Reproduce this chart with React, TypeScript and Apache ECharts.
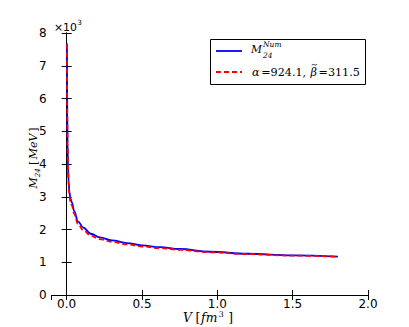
import React, { useEffect, useRef } from "react";
import * as echarts from "echarts";

const volumes = [0.002, 0.004, 0.006, 0.009, 0.013, 0.018, 0.025, 0.035, 0.05, 0.075, 0.11, 0.16, 0.22, 0.3, 0.4, 0.5, 0.62, 0.75, 0.95, 1.2, 1.5, 1.8];
const numericMass = [7680, 5600, 4650, 3900, 3450, 3150, 2950, 2820, 2560, 2250, 2060, 1870, 1760, 1670, 1585, 1515, 1460, 1405, 1320, 1260, 1210, 1170];
const fitMass = [7650, 5500, 4550, 3800, 3350, 3050, 2850, 2720, 2470, 2170, 1980, 1810, 1705, 1625, 1545, 1480, 1430, 1380, 1305, 1248, 1202, 1167];
const yTicks = [0, 1, 2, 3, 4, 5, 6, 7, 8];
const xTickLabels = ["0.0", "0.5", "1.0", "1.5", "2.0"];

const serif = "DejaVu Serif";
const sans = "DejaVu Sans";

type Part = { t: string; s: number; it?: boolean; dy?: number; fam?: string; gap?: number };

let ctx: CanvasRenderingContext2D | null = null;
function measure(p: Part, scale: number) {
  if (!ctx) ctx = document.createElement("canvas").getContext("2d");
  const fam = p.fam || serif;
  ctx!.font = `${p.it ? "italic " : ""}${p.s * scale}px "${fam}"`;
  return ctx!.measureText(p.t).width;
}

// lay out runs of text left to right, scaled so that the total width equals target
function runs(x0: number, y: number, parts: Part[], target: number) {
  let w = 0;
  parts.forEach((p) => (w += measure(p, 1) + (p.gap || 0)));
  const scale = target / w;
  let x = x0;
  const out: any[] = [];
  parts.forEach((p) => {
    x += (p.gap || 0) * scale;
    const fs = p.s * scale;
    out.push({
      type: "text", x, y: y + (p.dy || 0),
      style: {
        text: p.t, fontFamily: p.fam || serif, fontStyle: p.it ? "italic" : "normal",
        fontSize: fs, lineHeight: fs, fill: "#000", textVerticalAlign: "middle",
      },
    });
    x += measure(p, scale);
  });
  return out;
}

export default function App() {
  const ref = useRef<HTMLDivElement>(null);
  useEffect(() => {
    if (!ref.current) return;
    const chart = echarts.init(ref.current, null, { renderer: "svg" });
    const blue = volumes.map((v, i) => [v, numericMass[i]]);
    const red = volumes.map((v, i) => [v, fitMass[i]]);
    const axisLine = { show: true, lineStyle: { color: "#000", width: 1 } };
    const tick = { show: true, inside: true, length: 5, lineStyle: { color: "#000", width: 1 } };

    const yLabel = runs(-30.5, 0, [
      { t: "M", s: 14, it: true },
      { t: "24", s: 9, it: true, dy: 4 },
      { t: "[", s: 14, gap: 4 },
      { t: "MeV", s: 14, it: true, gap: 2 },
      { t: "]", s: 14, gap: 2 },
    ], 61);
    const xLabel = runs(183, 318, [
      { t: "V", s: 14, it: true },
      { t: "[", s: 14, gap: 4 },
      { t: "fm", s: 14, it: true, gap: 1 },
      { t: "3", s: 9, dy: -3.5, gap: 1.5 },
      { t: "]", s: 14, gap: 5 },
    ], 50);
    const mult = runs(54, 27, [
      { t: "×10", s: 12, fam: sans },
      { t: "3", s: 8, fam: sans, dy: -5, gap: 0.5 },
    ], 28);
    const leg1 = runs(251, 49.5, [{ t: "M", s: 13, it: true }], 11);
    const leg2 = runs(252, 72.5, [
      { t: "α", s: 13, it: true },
      { t: "=924.1,", s: 13, gap: 2 },
      { t: "β", s: 13, it: true, gap: 5 },
      { t: "=311.5", s: 13, gap: 2 },
    ], 108);
    const bx = leg2[2].x + 1.5;

    chart.setOption({
      animation: false,
      backgroundColor: "#fff",
      grid: { left: 51.6, right: 41, top: 33, bottom: 32, containLabel: false, show: false },
      xAxis: [
        {
          type: "value", min: -0.1, max: 2.0, position: "bottom",
          axisLine, axisTick: tick, splitLine: { show: false },
          axisLabel: {
            show: true, showMinLabel: false, showMaxLabel: true, margin: 4,
            fontFamily: sans, fontSize: 12, lineHeight: 10, color: "#000",
            formatter: (v: number) => {
              const s = v.toFixed(1);
              return xTickLabels.includes(s) ? s : "";
            },
          },
        },
        {
          type: "value", min: -0.1, max: 2.0, position: "top",
          axisLine, axisTick: tick, splitLine: { show: false }, axisLabel: { show: false },
        },
      ],
      yAxis: [
        {
          type: "value", min: 0, max: 8000, interval: 1000, position: "left",
          axisLine, axisTick: tick, splitLine: { show: false },
          axisLabel: {
            margin: 5, fontFamily: sans, fontSize: 12, color: "#000",
            formatter: (v: number) => {
              const k = Math.round(v / 1000);
              return yTicks.includes(k) ? String(k) : "";
            },
          },
        },
        {
          type: "value", min: 0, max: 8000, interval: 1000, position: "right",
          axisLine, axisTick: tick, splitLine: { show: false }, axisLabel: { show: false },
        },
      ],
      series: [
        {
          name: "M24Num", type: "line", data: blue, xAxisIndex: 0, yAxisIndex: 0,
          showSymbol: false, symbol: "none", smooth: 0.4, smoothMonotone: "x",
          lineStyle: { color: "#0000ff", width: 1.8 }, z: 2,
        },
        {
          name: "fit", type: "line", data: red, xAxisIndex: 0, yAxisIndex: 0,
          showSymbol: false, symbol: "none", smooth: 0.4, smoothMonotone: "x",
          lineStyle: { color: "#ff0000", width: 1.8, type: [5, 3] }, z: 3,
        },
      ],
      graphic: [
        ...mult,
        { type: "group", x: 33, y: 158, rotation: Math.PI / 2, children: yLabel },
        ...xLabel,
        {
          type: "group", z: 100,
          children: [
            { type: "rect", shape: { x: 210.5, y: 39.5, width: 155, height: 45 }, style: { fill: "#fff", stroke: "#000", lineWidth: 1 } },
            { type: "line", shape: { x1: 216, y1: 51, x2: 242, y2: 51 }, style: { stroke: "#0000ff", lineWidth: 1.8 } },
            { type: "line", shape: { x1: 216, y1: 72, x2: 242, y2: 72 }, style: { stroke: "#ff0000", lineWidth: 1.8, lineDash: [5, 3] } },
            ...leg1,
            { type: "text", x: 263, y: 44, style: { fontFamily: serif, fontStyle: "italic", text: "Num", fontSize: 7.5, lineHeight: 7.5, fill: "#000", textVerticalAlign: "middle" } },
            { type: "text", x: 263, y: 55.5, style: { fontFamily: serif, fontStyle: "italic", text: "24", fontSize: 7.5, lineHeight: 7.5, fill: "#000", textVerticalAlign: "middle" } },
            ...leg2,
            {
              type: "bezierCurve",
              shape: { x1: bx, y1: 65.5, cpx1: bx + 1.5, cpy1: 62.5, cpx2: bx + 3.5, cpy2: 67, x2: bx + 5, y2: 64 },
              style: { stroke: "#000", lineWidth: 0.8, fill: null },
            },
          ],
        },
      ],
    });
    return () => chart.dispose();
  }, []);
  return <div ref={ref} style={{ position: "fixed", left: 0, top: 0, width: 409, height: 327 }} />;
}
